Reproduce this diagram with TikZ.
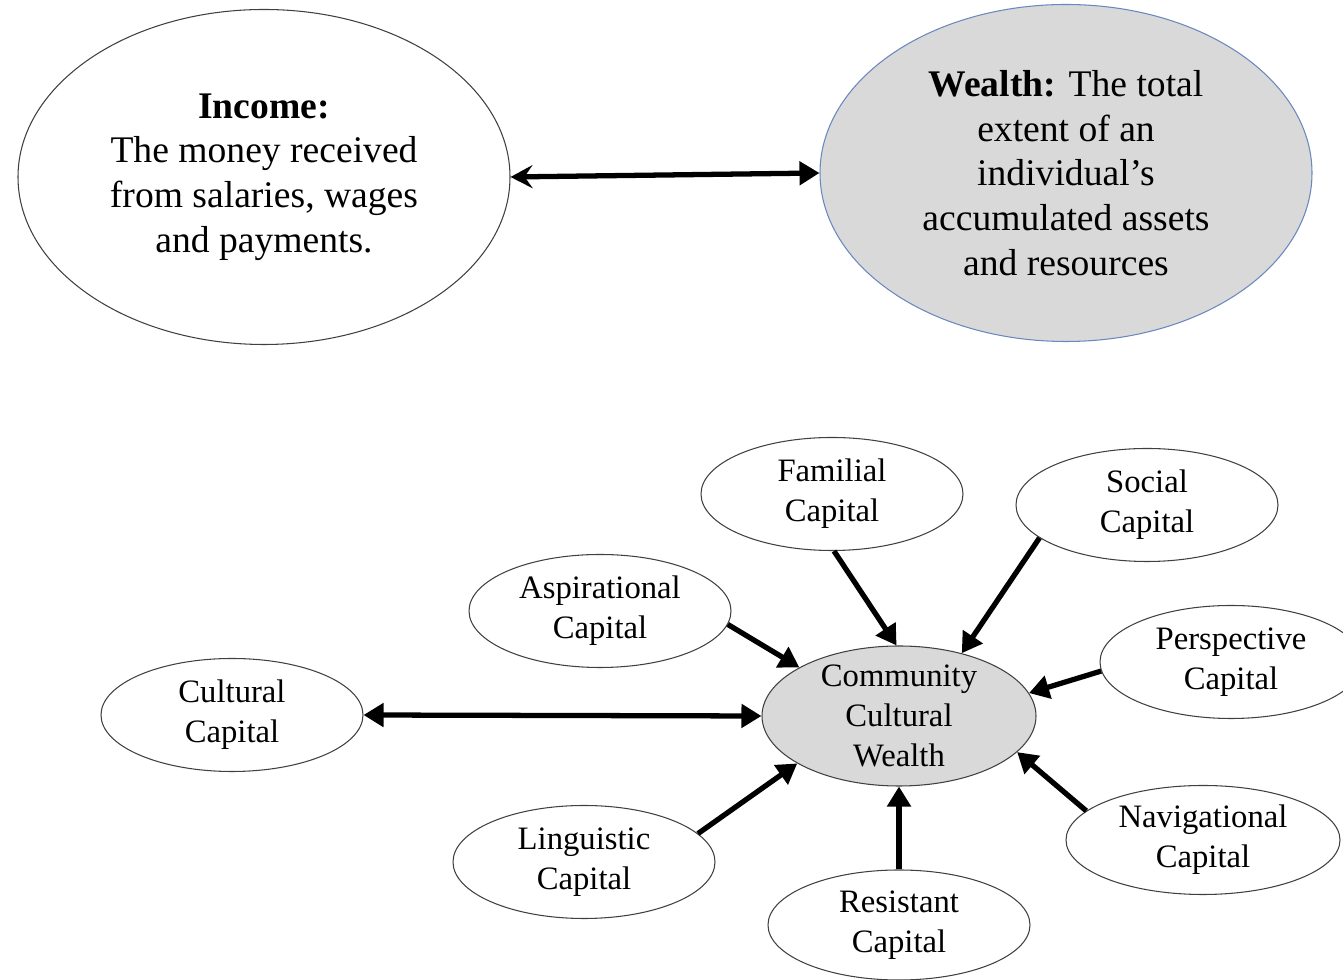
\documentclass[tikz,border=0pt]{standalone}
\usepackage{fontspec}
\setmainfont{Liberation Serif}
\usetikzlibrary{shapes.geometric,arrows.meta}

\definecolor{hubgray}{HTML}{D9D9D9}
\definecolor{rimblue}{HTML}{6A88C0}

\tikzset{
  big/.style={ellipse, draw=black!75, line width=0.6pt, inner sep=0pt, align=center,
    minimum width=9.84cm, minimum height=6.7cm, font=\fontsize{21.4}{25.5}\selectfont},
  bubble/.style={ellipse, draw=black!75, line width=0.6pt, inner sep=0pt, align=center,
    minimum width=5.24cm, minimum height=2.26cm, font=\fontsize{18.6}{22.7}\selectfont},
  link/.style={line width=3pt, -{Triangle[length=0.4cm,width=0.46cm]}},
  twoway/.style={line width=3pt, {Triangle[length=0.4cm,width=0.46cm]}-{Triangle[length=0.4cm,width=0.46cm]}},
}

\begin{document}
\begin{tikzpicture}

\useasboundingbox (0,0) rectangle (26.86,19.6);
\clip (0,0) rectangle (26.86,19.6);

% ---- top row: income and wealth
\node [big] (income) at (5.28,16.06) {\textbf{Income:}\\The money received\\from salaries, wages\\and payments.};
\node [big, fill=hubgray, draw=rimblue, minimum height=6.74cm] (wealth) at (21.32,16.14)
      {\textbf{Wealth:} The total\\extent of an\\individual’s\\accumulated assets\\and resources};

\draw [line width=3pt, {Stealth[length=0.44cm,width=0.46cm,inset=0.16cm]}-{Triangle[length=0.4cm,width=0.46cm]}]
      (income.east) -- (wealth.west);

% ---- bottom: community cultural wealth
\node [bubble, fill=hubgray, minimum width=5.48cm, minimum height=2.8cm, inner ysep=-4pt] (ccw) at (17.98,5.28)
      {Community\\Cultural\\Wealth};

\node [bubble] (fam) at (16.64,9.72) {Familial\\Capital};
\node [bubble] (soc) at (22.94,9.50) {Social\\Capital};
\node [bubble] (asp) at (12.00,7.38) {Aspirational\\Capital};
\node [bubble] (per) at (24.62,6.36) {Perspective\\Capital};
\node [bubble] (cul) at (4.64,5.30) {Cultural\\Capital};
\node [bubble, minimum width=5.48cm, minimum height=2.18cm] (nav) at (24.06,2.80) {Navigational\\Capital};
\node [bubble] (lin) at (11.68,2.36) {Linguistic\\Capital};
\node [bubble, minimum height=2.2cm] (res) at (17.98,1.10) {Resistant\\Capital};

% arrows into the hub
\draw [twoway] (cul.east) -- (ccw.west);
\draw [link] (asp.-6) -- (ccw.154);
\draw [link] (fam.-88) -- (ccw.92);
\draw [link] (soc.-163) -- (ccw.45);
\draw [link] (per.184) -- (ccw.10);
\draw [link] (nav.166) -- (ccw.-17);
\draw [link] (res.north) -- (ccw.south);
\draw [link] (lin.14) -- (ccw.-155);

\end{tikzpicture}
\end{document}
